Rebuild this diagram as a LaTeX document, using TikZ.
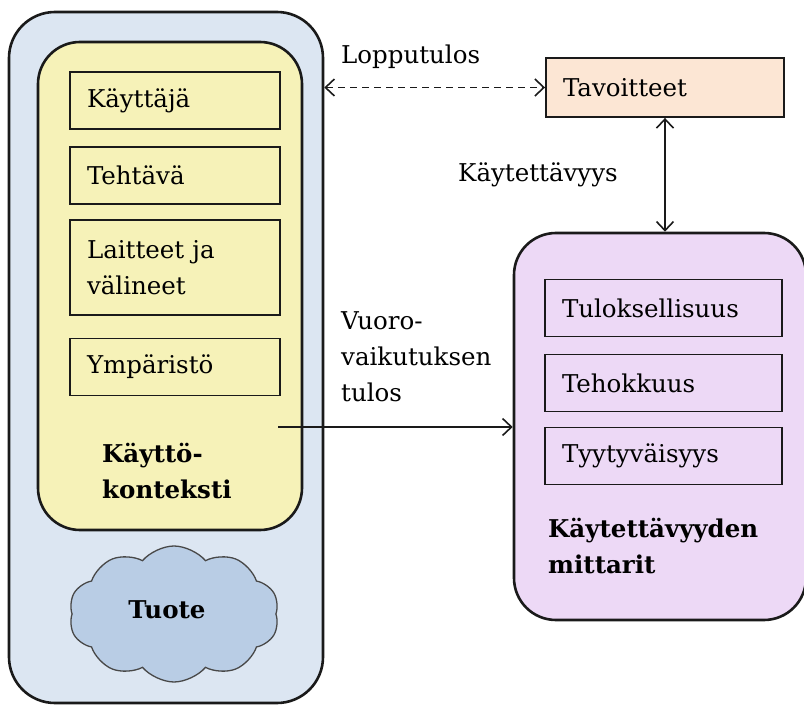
\documentclass[tikz,border=0pt]{standalone}
\usepackage{fontspec}
\setmainfont{DejaVu Serif}
\usetikzlibrary{shapes.symbols,arrows.meta}
\definecolor{outerblue}{HTML}{DCE6F2}
\definecolor{ctxyellow}{HTML}{F6F2B8}
\definecolor{measurepurple}{HTML}{EDD9F6}
\definecolor{goalpeach}{HTML}{FCE6D4}
\definecolor{cloudblue}{HTML}{B9CDE5}
\definecolor{inkline}{HTML}{1A1A1A}
\newcommand{\labelsize}{\fontsize{24.5}{36}\selectfont}
\tikzset{
  x=1pt, y=-1pt,
  txt/.style={font=\labelsize, inner sep=0pt},
  panel/.style={draw=inkline, line width=2.6pt},
  itembox/.style={draw=inkline, line width=1.9pt, rectangle, minimum width=210pt,
    minimum height=57pt, text width=176pt, align=left, inner xsep=17pt,
    font=\labelsize},
  link/.style={draw=inkline, line width=1.6pt},
  barb/.tip={Straight Barb[length=9pt, width=17pt, line width=1.6pt]},
}
\begin{document}
\begin{tikzpicture}
\useasboundingbox (0,0) rectangle (804,706);
\begin{scope}
\clip (0,0) rectangle (804,706);

% product frame and context of use
\node[panel, fill=outerblue, rounded corners=46pt, minimum width=314pt, minimum height=691pt] (product) at (166,357.5) {};
\node[panel, fill=ctxyellow, rounded corners=42pt, minimum width=264pt, minimum height=488pt] (context) at (170,286) {};

\node[itembox, fill=ctxyellow] (user) at (175,100.5) {Käyttäjä};
\node[itembox, fill=ctxyellow] (task) at (175,175.5) {Tehtävä};
\node[itembox, fill=ctxyellow, minimum height=95pt] (equip) at (175,267.5) {Laitteet ja\\välineet};
\node[itembox, fill=ctxyellow] (env) at (175,367) {Ympäristö};

\node[txt, font=\labelsize\bfseries, anchor=north west, align=left] (ctxlabel) at (102,443) {Käyttö-\\konteksti};

\node[cloud, cloud puffs=10, cloud puff arc=100, aspect=1.6, draw=inkline!80, line width=1.3pt,
  fill=cloudblue, minimum width=210pt, minimum height=136pt] (tuote) at (174,614) {};
\node[txt, font=\labelsize\bfseries] (tuotelabel) at (167,610) {Tuote};

% goals
\node[draw=inkline, line width=1.9pt, fill=goalpeach, rectangle, minimum width=238pt,
  minimum height=59pt, text width=204pt, align=left, inner xsep=17pt,
  font=\labelsize] (goals) at (665,87.5) {Tavoitteet};

% usability measures
\node[panel, fill=measurepurple, rounded corners=42pt, minimum width=292pt, minimum height=387pt] (measures) at (660,426.5) {};
\node[itembox, fill=measurepurple, minimum width=237pt, text width=203pt] (effect) at (663.5,308) {Tuloksellisuus};
\node[itembox, fill=measurepurple, minimum width=237pt, text width=203pt] (effic) at (663.5,383) {Tehokkuus};
\node[itembox, fill=measurepurple, minimum width=237pt, text width=203pt] (satis) at (663.5,456) {Tyytyväisyys};
\node[txt, font=\labelsize\bfseries, anchor=north west, align=left] (measlabel) at (548,518) {Käytettävyyden\\mittarit};

% connectors
\coordinate (ctxout) at (278,427);
\draw[link, dash pattern=on 7pt off 5pt, barb-barb]
  (product.east |- goals.west) -- (goals.west);
\draw[link, line width=2.2pt, barb-barb]
  (goals.south) -- (goals.south |- measures.north);
\draw[link, -barb] (ctxout) -- (ctxout -| measures.west);

% connector labels
\node[txt, anchor=west] (endresult) at (341,57) {Lopputulos};
\node[txt, anchor=west] (usability) at (458,175) {Käytettävyys};
\node[txt, anchor=north west, align=left] (interaction) at (341,311) {Vuoro-\\vaikutuksen\\tulos};
\end{scope}
\end{tikzpicture}
\end{document}
